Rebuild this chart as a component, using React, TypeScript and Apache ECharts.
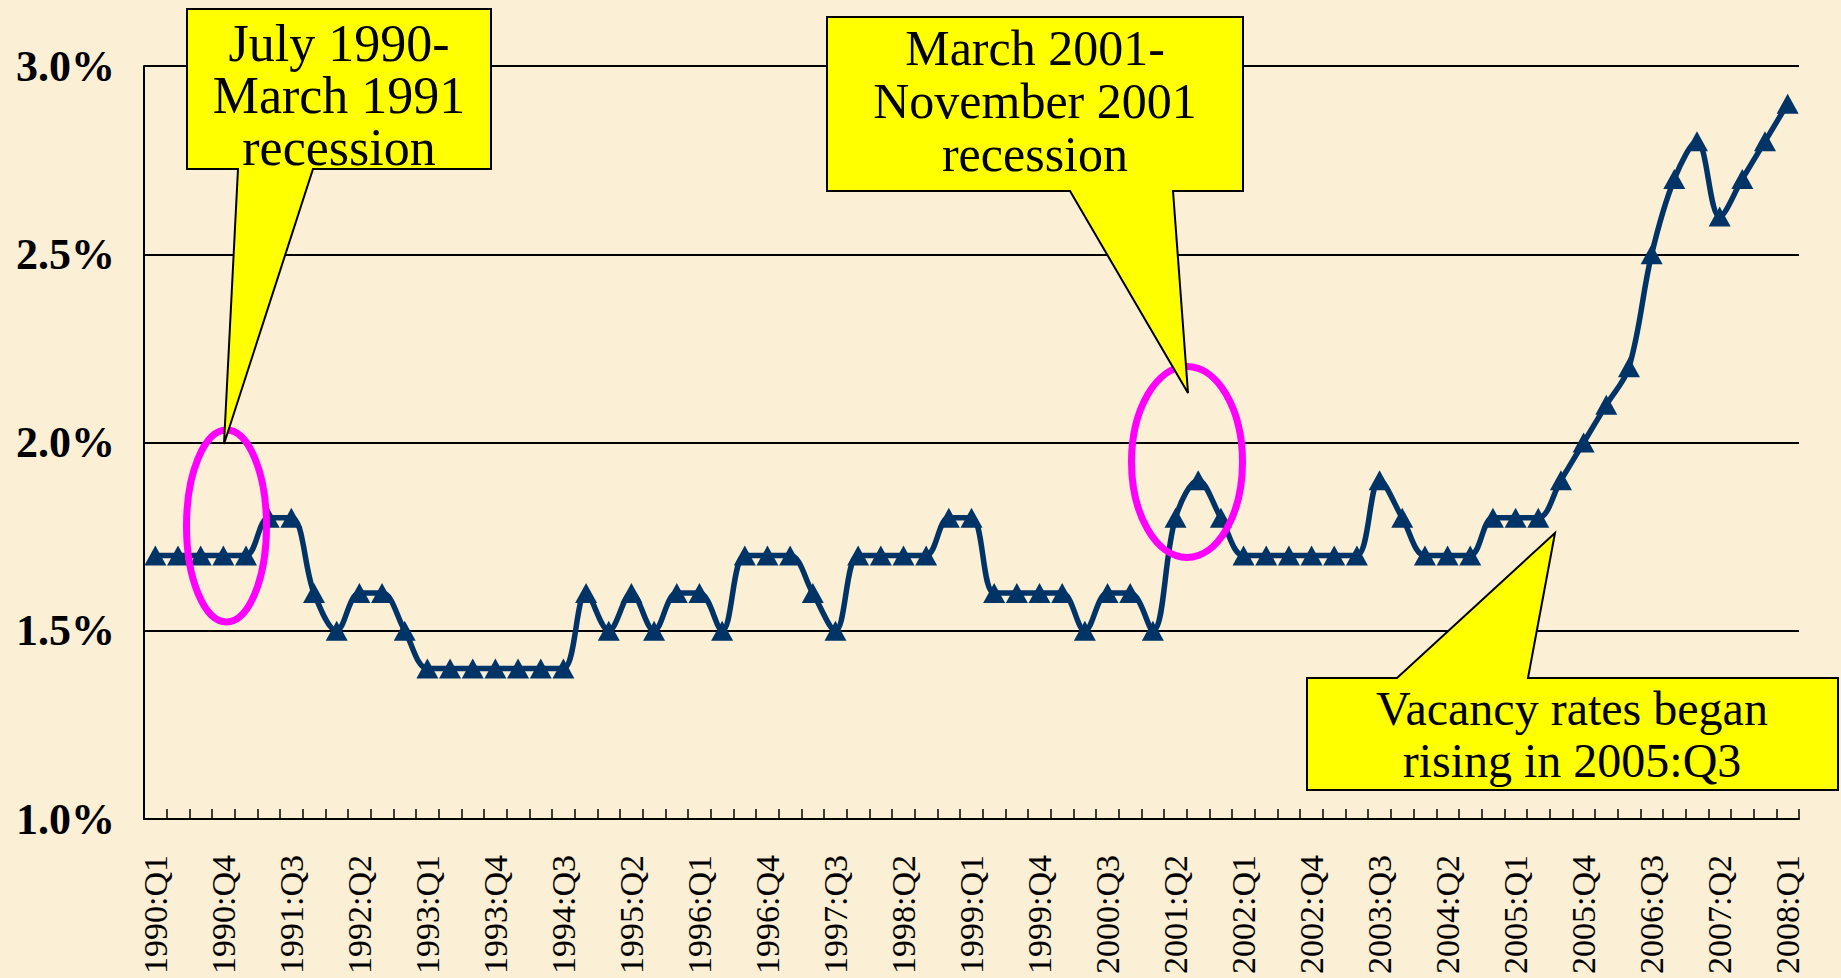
import React, { useEffect, useRef } from "react";
import * as echarts from "echarts";

// Quarterly categories 1990:Q1 .. 2008:Q1
const years = [1990, 1991, 1992, 1993, 1994, 1995, 1996, 1997, 1998, 1999, 2000, 2001, 2002, 2003, 2004, 2005, 2006, 2007, 2008];
const quarters = ["Q1", "Q2", "Q3", "Q4"];
const categories: string[] = [];
years.forEach((y) => quarters.forEach((q) => categories.push(`${y}:${q}`)));
categories.splice(73);

// Vacancy rate (%)
const vacancyRate = [
  1.7, 1.7, 1.7, 1.7, 1.7, 1.8, 1.8, 1.6, 1.5, 1.6, 1.6, 1.5,
  1.4, 1.4, 1.4, 1.4, 1.4, 1.4, 1.4, 1.6, 1.5, 1.6, 1.5, 1.6,
  1.6, 1.5, 1.7, 1.7, 1.7, 1.6, 1.5, 1.7, 1.7, 1.7, 1.7, 1.8,
  1.8, 1.6, 1.6, 1.6, 1.6, 1.5, 1.6, 1.6, 1.5, 1.8, 1.9, 1.8,
  1.7, 1.7, 1.7, 1.7, 1.7, 1.7, 1.9, 1.8, 1.7, 1.7, 1.7, 1.8,
  1.8, 1.8, 1.9, 2.0, 2.1, 2.2, 2.5, 2.7, 2.8, 2.6, 2.7, 2.8,
  2.9,
];

const yTicks = [1.0, 1.5, 2.0, 2.5, 3.0];

const callout1Lines = ["July 1990-", "March 1991", "recession"];
const callout2Lines = ["March 2001-", "November 2001", "recession"];
const callout3Lines = ["Vacancy rates began", "rising in 2005:Q3"];

const SERIF = '"Liberation Serif", "Times New Roman", serif';

export default function App() {
  const ref = useRef<HTMLDivElement>(null);

  useEffect(() => {
    if (!ref.current) return;
    const chart = echarts.init(ref.current, undefined, { renderer: "svg" });

    const calloutStyle = { fill: "#FFFF00", stroke: "#000000", lineWidth: 2 };
    const lineTexts = (x: number, yFirst: number, lines: string[], lh: number, size: number) =>
      lines.map((t, i) => ({
        type: "text",
        z: 120,
        style: {
          text: t,
          x,
          y: yFirst + i * lh,
          fill: "#000000",
          font: `${size}px ${SERIF}`,
          textAlign: "center",
          textVerticalAlign: "middle",
        },
      }));

    chart.setOption({
      animation: false,
      backgroundColor: "#FBEFD6",
      grid: { left: 144, right: 42, top: 66, bottom: 159, containLabel: false },
      xAxis: {
        type: "category",
        data: categories,
        boundaryGap: true,
        axisLine: { show: true, lineStyle: { color: "#000000", width: 2 } },
        axisTick: { show: true, inside: true, length: 10, interval: 0, lineStyle: { color: "#000000", width: 1.5 } },
        axisLabel: {
          interval: 2,
          rotate: 90,
          margin: 36,
          color: "#000000",
          fontFamily: SERIF,
          fontSize: 34,
        },
        splitLine: { show: false },
      },
      yAxis: {
        type: "value",
        min: yTicks[0],
        max: yTicks[yTicks.length - 1],
        interval: 0.5,
        axisLine: { show: true, lineStyle: { color: "#000000", width: 2 } },
        axisTick: { show: false },
        axisLabel: {
          margin: 29,
          color: "#000000",
          fontFamily: SERIF,
          fontSize: 44,
          fontWeight: "bold",
          formatter: (v: number) => v.toFixed(1) + "%",
        },
        splitLine: { show: true, lineStyle: { color: "#000000", width: 2 } },
      },
      series: [
        {
          type: "line",
          data: vacancyRate,
          smooth: 0.35,
          showAllSymbol: true,
          symbol: "triangle",
          symbolSize: [22, 20],
          lineStyle: { color: "#003366", width: 5.5 },
          itemStyle: { color: "#003366" },
          z: 5,
        },
      ],
      graphic: [
        {
          type: "ellipse",
          z: 100,
          shape: { cx: 226.5, cy: 526, rx: 40, ry: 96 },
          style: { fill: "none", stroke: "#FF00FF", lineWidth: 7 },
        },
        {
          type: "ellipse",
          z: 100,
          shape: { cx: 1187, cy: 462, rx: 55.5, ry: 95.5 },
          style: { fill: "none", stroke: "#FF00FF", lineWidth: 7 },
        },
        {
          type: "polygon",
          z: 110,
          shape: {
            points: [
              [187, 9], [491, 9], [491, 169], [313, 169], [224, 444], [238, 169], [187, 169],
            ],
          },
          style: calloutStyle,
        },
        {
          type: "polygon",
          z: 110,
          shape: {
            points: [
              [827, 17], [1243, 17], [1243, 191], [1173, 191], [1188, 393], [1070, 191], [827, 191],
            ],
          },
          style: calloutStyle,
        },
        {
          type: "polygon",
          z: 110,
          shape: {
            points: [
              [1307, 678], [1397, 678], [1555, 533], [1528, 678], [1838, 678], [1838, 790], [1307, 790],
            ],
          },
          style: calloutStyle,
        },
        ...lineTexts(339, 43, callout1Lines, 52, 52),
        ...lineTexts(1035, 48, callout2Lines, 53, 50),
        ...lineTexts(1572, 708, callout3Lines, 52, 48),
      ],
    });

    return () => chart.dispose();
  }, []);

  return (
    <div
      ref={ref}
      style={{ position: "fixed", left: 0, top: 0, width: "1841px", height: "978px" }}
    />
  );
}
